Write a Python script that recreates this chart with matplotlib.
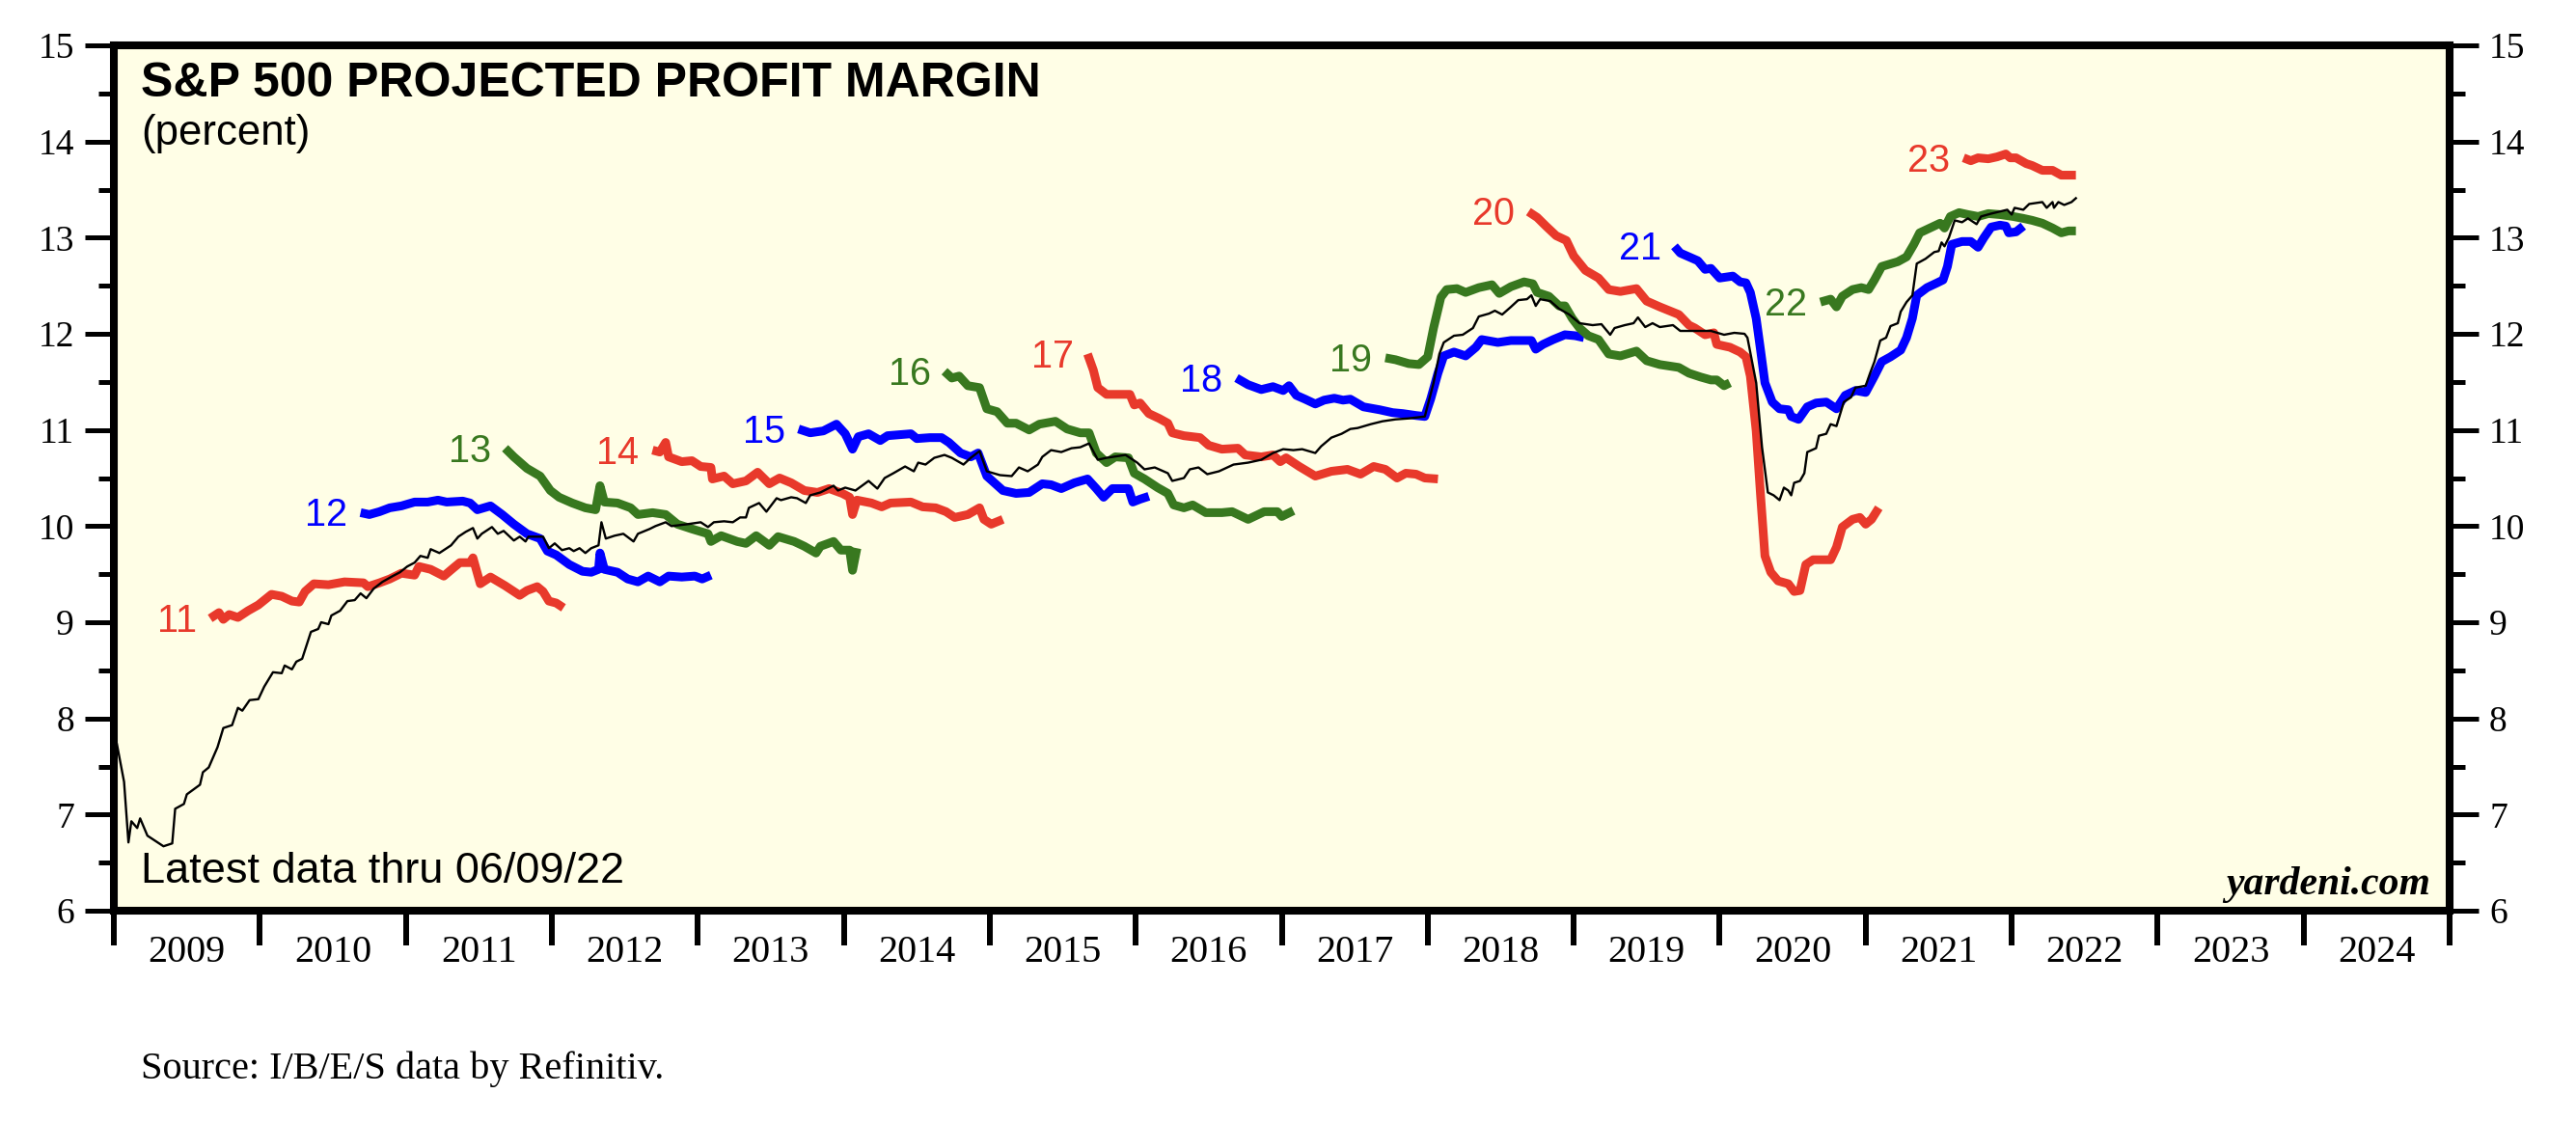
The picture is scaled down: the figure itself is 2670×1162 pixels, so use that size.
import matplotlib
matplotlib.use("Agg")
import matplotlib.pyplot as plt

# S&P 500 forward (time-weighted) profit margin, weekly readings (decimal year, percent)
fwd = [(2009.00, 7.80), (2009.02, 7.74), (2009.07, 7.34), (2009.10, 6.71), (2009.12, 6.93), (2009.16, 6.86),
       (2009.18, 6.96), (2009.23, 6.78), (2009.30, 6.71), (2009.34, 6.67), (2009.40, 6.70), (2009.42, 7.06),
       (2009.48, 7.11), (2009.50, 7.21), (2009.59, 7.31), (2009.61, 7.44), (2009.65, 7.49), (2009.71, 7.70),
       (2009.75, 7.90), (2009.81, 7.93), (2009.85, 8.11), (2009.88, 8.08), (2009.93, 8.19), (2009.99, 8.20),
       (2010.03, 8.33), (2010.09, 8.48), (2010.15, 8.47), (2010.17, 8.55), (2010.22, 8.51), (2010.25, 8.59),
       (2010.29, 8.62), (2010.35, 8.90), (2010.40, 8.93), (2010.42, 9.00), (2010.47, 8.98), (2010.49, 9.07),
       (2010.55, 9.12), (2010.60, 9.22), (2010.65, 9.23), (2010.69, 9.30), (2010.73, 9.25), (2010.78, 9.35),
       (2010.84, 9.42), (2010.91, 9.48), (2010.96, 9.52), (2011.01, 9.58), (2011.06, 9.62), (2011.10, 9.69),
       (2011.15, 9.67), (2011.17, 9.76), (2011.23, 9.72), (2011.31, 9.80), (2011.36, 9.89), (2011.41, 9.94),
       (2011.46, 9.98), (2011.49, 9.87), (2011.52, 9.92), (2011.59, 9.99), (2011.63, 9.92), (2011.67, 9.95),
       (2011.74, 9.85), (2011.78, 9.89), (2011.82, 9.84), (2011.84, 9.89), (2011.94, 9.89), (2011.98, 9.77),
       (2012.02, 9.82), (2012.07, 9.75), (2012.12, 9.77), (2012.15, 9.74), (2012.19, 9.77), (2012.23, 9.72),
       (2012.27, 9.77), (2012.32, 9.80), (2012.34, 10.04), (2012.37, 9.87), (2012.43, 9.90), (2012.49, 9.92),
       (2012.56, 9.84), (2012.59, 9.92), (2012.67, 9.97), (2012.71, 10.00), (2012.78, 10.04), (2012.82, 10.00),
       (2012.93, 10.02), (2013.02, 10.04), (2013.07, 9.99), (2013.11, 10.04), (2013.18, 10.05), (2013.24, 10.04),
       (2013.29, 10.09), (2013.33, 10.09), (2013.35, 10.19), (2013.42, 10.24), (2013.47, 10.15), (2013.54, 10.29),
       (2013.57, 10.27), (2013.64, 10.30), (2013.68, 10.29), (2013.74, 10.24), (2013.77, 10.32), (2013.84, 10.35),
       (2013.93, 10.42), (2013.96, 10.37), (2014.01, 10.40), (2014.08, 10.37), (2014.17, 10.47), (2014.23, 10.39),
       (2014.28, 10.50), (2014.34, 10.55), (2014.42, 10.62), (2014.48, 10.57), (2014.51, 10.66), (2014.56, 10.64),
       (2014.62, 10.71), (2014.69, 10.74), (2014.74, 10.71), (2014.82, 10.64), (2014.87, 10.71), (2014.93, 10.78),
       (2014.98, 10.57), (2015.07, 10.53), (2015.15, 10.52), (2015.20, 10.61), (2015.26, 10.57), (2015.33, 10.64),
       (2015.36, 10.72), (2015.42, 10.79), (2015.49, 10.77), (2015.56, 10.81), (2015.62, 10.82), (2015.68, 10.86),
       (2015.74, 10.69), (2015.80, 10.71), (2015.93, 10.74), (2016.01, 10.66), (2016.06, 10.59), (2016.13, 10.61),
       (2016.22, 10.55), (2016.25, 10.47), (2016.33, 10.50), (2016.37, 10.59), (2016.43, 10.61), (2016.49, 10.54),
       (2016.57, 10.57), (2016.67, 10.64), (2016.77, 10.66), (2016.86, 10.69), (2016.94, 10.76), (2017.01, 10.80),
       (2017.08, 10.79), (2017.14, 10.80), (2017.23, 10.76), (2017.27, 10.83), (2017.34, 10.92), (2017.41, 10.96),
       (2017.47, 11.01), (2017.52, 11.02), (2017.61, 11.06), (2017.69, 11.09), (2017.78, 11.11), (2017.87, 11.12),
       (2017.98, 11.14), (2018.04, 11.49), (2018.08, 11.79), (2018.11, 11.91), (2018.18, 11.98), (2018.24, 11.99),
       (2018.31, 12.06), (2018.35, 12.18), (2018.42, 12.21), (2018.46, 12.24), (2018.51, 12.20), (2018.57, 12.28),
       (2018.62, 12.35), (2018.68, 12.36), (2018.71, 12.40), (2018.74, 12.29), (2018.77, 12.36), (2018.84, 12.34),
       (2018.90, 12.26), (2018.97, 12.20), (2019.04, 12.11), (2019.13, 12.09), (2019.19, 12.10), (2019.25, 11.99),
       (2019.28, 12.06), (2019.35, 12.09), (2019.41, 12.11), (2019.44, 12.17), (2019.49, 12.07), (2019.54, 12.11),
       (2019.59, 12.07), (2019.68, 12.09), (2019.73, 12.03), (2019.81, 12.03), (2019.94, 12.03), (2020.03, 11.99),
       (2020.10, 12.01), (2020.17, 12.00), (2020.19, 11.96), (2020.25, 11.49), (2020.29, 10.82), (2020.33, 10.35),
       (2020.37, 10.32), (2020.41, 10.27), (2020.44, 10.40), (2020.47, 10.37), (2020.49, 10.32), (2020.51, 10.45),
       (2020.55, 10.47), (2020.58, 10.55), (2020.60, 10.77), (2020.66, 10.81), (2020.68, 10.94), (2020.73, 10.96),
       (2020.76, 11.06), (2020.80, 11.04), (2020.82, 11.14), (2020.85, 11.29), (2020.90, 11.34), (2020.93, 11.44),
       (2021.00, 11.46), (2021.03, 11.59), (2021.06, 11.71), (2021.10, 11.93), (2021.14, 11.96), (2021.17, 12.08),
       (2021.22, 12.11), (2021.24, 12.23), (2021.28, 12.33), (2021.32, 12.40), (2021.35, 12.73), (2021.41, 12.78),
       (2021.47, 12.85), (2021.50, 12.86), (2021.52, 12.95), (2021.54, 12.91), (2021.57, 13.00), (2021.61, 13.18),
       (2021.66, 13.16), (2021.70, 13.20), (2021.76, 13.14), (2021.79, 13.22), (2021.86, 13.25), (2021.97, 13.29),
       (2022.00, 13.24), (2022.02, 13.31), (2022.08, 13.29), (2022.12, 13.35), (2022.21, 13.37), (2022.24, 13.31),
       (2022.28, 13.37), (2022.29, 13.31), (2022.32, 13.37), (2022.36, 13.34), (2022.41, 13.37), (2022.44, 13.41)]

# projected margin for each calendar year
pm11 = [(2009.66, 9.04), (2009.72, 9.10), (2009.75, 9.03), (2009.79, 9.08), (2009.85, 9.05), (2009.92, 9.12),
        (2009.99, 9.18), (2010.08, 9.29), (2010.15, 9.27), (2010.22, 9.22), (2010.27, 9.21), (2010.31, 9.32),
        (2010.37, 9.40), (2010.47, 9.39), (2010.58, 9.42), (2010.71, 9.41), (2010.74, 9.37), (2010.82, 9.41),
        (2010.89, 9.45), (2010.97, 9.51), (2011.06, 9.49), (2011.09, 9.58), (2011.17, 9.55), (2011.26, 9.48),
        (2011.33, 9.57), (2011.37, 9.62), (2011.44, 9.62), (2011.46, 9.67), (2011.51, 9.40), (2011.58, 9.47),
        (2011.68, 9.38), (2011.78, 9.28), (2011.83, 9.33), (2011.90, 9.37), (2011.94, 9.32), (2011.98, 9.22),
        (2012.03, 9.20), (2012.08, 9.15)]
pm12 = [(2010.69, 10.14), (2010.75, 10.12), (2010.82, 10.15), (2010.89, 10.19), (2010.97, 10.21), (2011.06, 10.25),
        (2011.15, 10.25), (2011.22, 10.27), (2011.28, 10.25), (2011.39, 10.26), (2011.44, 10.24), (2011.49, 10.17),
        (2011.58, 10.21), (2011.66, 10.12), (2011.74, 10.02), (2011.83, 9.92), (2011.92, 9.87), (2011.97, 9.74),
        (2012.03, 9.70), (2012.12, 9.60), (2012.21, 9.53), (2012.27, 9.52), (2012.32, 9.55), (2012.33, 9.72),
        (2012.36, 9.55), (2012.45, 9.52), (2012.52, 9.45), (2012.59, 9.42), (2012.66, 9.48), (2012.74, 9.42),
        (2012.80, 9.48), (2012.89, 9.47), (2012.98, 9.48), (2013.03, 9.45), (2013.09, 9.49)]
pm13 = [(2011.68, 10.81), (2011.74, 10.72), (2011.83, 10.60), (2011.92, 10.52), (2011.99, 10.37), (2012.05, 10.30),
        (2012.14, 10.24), (2012.23, 10.19), (2012.30, 10.17), (2012.33, 10.42), (2012.36, 10.25), (2012.45, 10.24),
        (2012.54, 10.19), (2012.59, 10.12), (2012.69, 10.14), (2012.78, 10.12), (2012.86, 10.02), (2012.96, 9.97),
        (2013.07, 9.92), (2013.09, 9.84), (2013.16, 9.90), (2013.27, 9.84), (2013.33, 9.82), (2013.40, 9.90),
        (2013.49, 9.80), (2013.55, 9.89), (2013.66, 9.84), (2013.73, 9.79), (2013.81, 9.72), (2013.84, 9.79),
        (2013.93, 9.84), (2013.98, 9.75), (2014.04, 9.75), (2014.06, 9.54), (2014.09, 9.77)]
pm14 = [(2012.69, 10.79), (2012.74, 10.77), (2012.78, 10.87), (2012.80, 10.72), (2012.89, 10.67), (2012.96, 10.68),
        (2013.02, 10.62), (2013.09, 10.61), (2013.10, 10.49), (2013.18, 10.52), (2013.24, 10.44), (2013.33, 10.47),
        (2013.41, 10.56), (2013.49, 10.44), (2013.56, 10.50), (2013.64, 10.45), (2013.73, 10.37), (2013.82, 10.35),
        (2013.90, 10.39), (2013.99, 10.34), (2014.04, 10.30), (2014.06, 10.12), (2014.09, 10.27), (2014.19, 10.24),
        (2014.26, 10.20), (2014.32, 10.24), (2014.46, 10.25), (2014.54, 10.20), (2014.63, 10.19), (2014.70, 10.15),
        (2014.76, 10.09), (2014.85, 10.12), (2014.93, 10.19), (2014.96, 10.07), (2015.01, 10.02), (2015.09, 10.07)]
pm15 = [(2013.69, 11.01), (2013.77, 10.97), (2013.86, 10.99), (2013.95, 11.06), (2014.01, 10.96), (2014.06, 10.80),
        (2014.10, 10.93), (2014.17, 10.96), (2014.25, 10.89), (2014.30, 10.94), (2014.46, 10.96), (2014.50, 10.91),
        (2014.59, 10.92), (2014.67, 10.92), (2014.72, 10.87), (2014.80, 10.76), (2014.87, 10.72), (2014.92, 10.76),
        (2014.98, 10.52), (2015.09, 10.37), (2015.18, 10.34), (2015.27, 10.35), (2015.36, 10.44), (2015.42, 10.43),
        (2015.49, 10.39), (2015.58, 10.45), (2015.67, 10.49), (2015.73, 10.39), (2015.78, 10.30), (2015.84, 10.39),
        (2015.95, 10.39), (2015.98, 10.25), (2016.03, 10.28), (2016.09, 10.31)]
pm16 = [(2014.69, 11.61), (2014.74, 11.54), (2014.79, 11.56), (2014.85, 11.46), (2014.93, 11.44), (2014.98, 11.22),
        (2015.05, 11.19), (2015.12, 11.07), (2015.18, 11.07), (2015.27, 11.00), (2015.34, 11.06), (2015.45, 11.09),
        (2015.53, 11.01), (2015.62, 10.97), (2015.68, 10.97), (2015.73, 10.76), (2015.80, 10.66), (2015.86, 10.72),
        (2015.95, 10.71), (2015.99, 10.55), (2016.06, 10.49), (2016.15, 10.40), (2016.22, 10.34), (2016.26, 10.22),
        (2016.33, 10.19), (2016.39, 10.22), (2016.48, 10.14), (2016.59, 10.14), (2016.66, 10.15), (2016.77, 10.07),
        (2016.88, 10.15), (2016.97, 10.15), (2017.00, 10.10), (2017.08, 10.16)]
pm17 = [(2015.67, 11.79), (2015.71, 11.62), (2015.74, 11.44), (2015.80, 11.37), (2015.89, 11.37), (2015.96, 11.37),
        (2015.99, 11.26), (2016.03, 11.28), (2016.09, 11.17), (2016.16, 11.12), (2016.22, 11.07), (2016.25, 10.97),
        (2016.33, 10.94), (2016.44, 10.92), (2016.50, 10.84), (2016.59, 10.80), (2016.70, 10.81), (2016.75, 10.74),
        (2016.86, 10.72), (2016.94, 10.74), (2016.99, 10.67), (2017.03, 10.71), (2017.12, 10.62), (2017.23, 10.52),
        (2017.34, 10.57), (2017.45, 10.59), (2017.54, 10.54), (2017.63, 10.62), (2017.71, 10.59), (2017.79, 10.50),
        (2017.85, 10.55), (2017.92, 10.54), (2017.98, 10.50), (2018.07, 10.49)]
pm18 = [(2016.69, 11.54), (2016.77, 11.47), (2016.86, 11.42), (2016.94, 11.45), (2017.01, 11.41), (2017.05, 11.46),
        (2017.10, 11.36), (2017.16, 11.32), (2017.23, 11.27), (2017.29, 11.31), (2017.36, 11.33), (2017.42, 11.31),
        (2017.47, 11.32), (2017.56, 11.24), (2017.67, 11.21), (2017.76, 11.18), (2017.83, 11.17), (2017.92, 11.15),
        (2017.98, 11.14), (2018.02, 11.32), (2018.07, 11.59), (2018.11, 11.77), (2018.18, 11.81), (2018.26, 11.77),
        (2018.33, 11.86), (2018.37, 11.94), (2018.48, 11.91), (2018.57, 11.93), (2018.71, 11.93), (2018.74, 11.84),
        (2018.79, 11.89), (2018.86, 11.94), (2018.94, 11.99), (2019.01, 11.98), (2019.07, 11.96)]
pm19 = [(2017.71, 11.75), (2017.78, 11.73), (2017.87, 11.69), (2017.94, 11.68), (2018.00, 11.76), (2018.04, 12.06),
        (2018.09, 12.38), (2018.13, 12.46), (2018.20, 12.47), (2018.26, 12.43), (2018.35, 12.48), (2018.44, 12.51),
        (2018.49, 12.42), (2018.57, 12.49), (2018.66, 12.54), (2018.72, 12.52), (2018.75, 12.43), (2018.83, 12.39),
        (2018.90, 12.29), (2018.94, 12.29), (2018.99, 12.16), (2019.04, 12.06), (2019.10, 11.98), (2019.17, 11.94),
        (2019.24, 11.79), (2019.32, 11.77), (2019.43, 11.82), (2019.50, 11.72), (2019.59, 11.68), (2019.72, 11.65),
        (2019.79, 11.59), (2019.87, 11.55), (2019.94, 11.52), (2019.98, 11.52), (2020.03, 11.46), (2020.07, 11.49)]
pm20 = [(2018.69, 13.27), (2018.75, 13.21), (2018.81, 13.12), (2018.88, 13.02), (2018.95, 12.97), (2019.00, 12.81),
        (2019.08, 12.66), (2019.17, 12.58), (2019.24, 12.46), (2019.32, 12.44), (2019.43, 12.47), (2019.50, 12.34),
        (2019.59, 12.28), (2019.72, 12.20), (2019.79, 12.09), (2019.83, 12.06), (2019.90, 11.99), (2019.96, 12.01),
        (2019.98, 11.89), (2020.07, 11.86), (2020.14, 11.81), (2020.18, 11.76), (2020.21, 11.56), (2020.25, 10.99),
        (2020.28, 10.32), (2020.31, 9.69), (2020.35, 9.52), (2020.40, 9.43), (2020.47, 9.40), (2020.51, 9.32),
        (2020.55, 9.33), (2020.59, 9.60), (2020.64, 9.65), (2020.76, 9.65), (2020.80, 9.78), (2020.84, 9.99),
        (2020.91, 10.07), (2020.96, 10.09), (2021.00, 10.02), (2021.04, 10.07), (2021.09, 10.19)]
pm21 = [(2019.69, 12.91), (2019.73, 12.84), (2019.79, 12.80), (2019.85, 12.76), (2019.90, 12.67), (2019.94, 12.68),
        (2020.00, 12.58), (2020.09, 12.60), (2020.14, 12.54), (2020.18, 12.53), (2020.21, 12.43), (2020.25, 12.16),
        (2020.28, 11.83), (2020.31, 11.49), (2020.36, 11.29), (2020.41, 11.22), (2020.47, 11.21), (2020.49, 11.14),
        (2020.54, 11.11), (2020.60, 11.24), (2020.66, 11.28), (2020.73, 11.29), (2020.80, 11.22), (2020.86, 11.36),
        (2020.93, 11.41), (2021.00, 11.39), (2021.06, 11.56), (2021.11, 11.71), (2021.17, 11.76), (2021.24, 11.83),
        (2021.28, 11.96), (2021.32, 12.16), (2021.35, 12.40), (2021.42, 12.48), (2021.49, 12.53), (2021.53, 12.56),
        (2021.56, 12.70), (2021.59, 12.93), (2021.66, 12.96), (2021.72, 12.96), (2021.77, 12.90), (2021.81, 13.00),
        (2021.86, 13.11), (2021.92, 13.13), (2021.96, 13.12), (2021.98, 13.05), (2022.03, 13.06), (2022.08, 13.12)]
pm22 = [(2020.69, 12.33), (2020.76, 12.36), (2020.80, 12.28), (2020.84, 12.39), (2020.91, 12.46), (2020.97, 12.48),
        (2021.02, 12.46), (2021.06, 12.56), (2021.11, 12.70), (2021.22, 12.75), (2021.28, 12.80), (2021.33, 12.93),
        (2021.37, 13.05), (2021.44, 13.10), (2021.51, 13.15), (2021.54, 13.10), (2021.58, 13.22), (2021.64, 13.26),
        (2021.70, 13.24), (2021.77, 13.22), (2021.84, 13.25), (2021.92, 13.24), (2022.01, 13.22), (2022.08, 13.20),
        (2022.14, 13.18), (2022.21, 13.15), (2022.28, 13.10), (2022.34, 13.05), (2022.39, 13.07), (2022.44, 13.07)]
pm23 = [(2021.67, 13.83), (2021.72, 13.80), (2021.77, 13.83), (2021.84, 13.82), (2021.90, 13.84), (2021.96, 13.87),
        (2021.99, 13.83), (2022.03, 13.83), (2022.10, 13.77), (2022.14, 13.75), (2022.21, 13.70), (2022.28, 13.70),
        (2022.34, 13.65), (2022.39, 13.65), (2022.44, 13.65)]

year_labels = [str(y) for y in range(2009, 2025)]
RED, BLUE, GREEN = "#e8392b", "#0000ff", "#38781f"

series = [("11", pm11, RED), ("12", pm12, BLUE), ("13", pm13, GREEN),
          ("14", pm14, RED), ("15", pm15, BLUE), ("16", pm16, GREEN),
          ("17", pm17, RED), ("18", pm18, BLUE), ("19", pm19, GREEN),
          ("20", pm20, RED), ("21", pm21, BLUE), ("22", pm22, GREEN),
          ("23", pm23, RED)]

plt.rcParams["font.family"] = "Liberation Serif"
SANS = "Liberation Sans"

fig = plt.figure(figsize=(26.7, 11.62), dpi=100)
ax = fig.add_axes([118 / 2670, 1 - 944 / 1162, 2421 / 2670, 897 / 1162])
ax.set_facecolor("#fffee6")

for name, pts, col in series:
    t = [p[0] for p in pts]
    v = [p[1] for p in pts]
    ax.plot(t, v, color=col, lw=6.5, solid_capstyle="butt", solid_joinstyle="round", zorder=2)
    ax.annotate(name, xy=(t[0], v[0]), xytext=(-14, -14), textcoords="offset pixels",
                ha="right", va="baseline", color=col, fontsize=28.5, family=SANS)

ax.plot([p[0] for p in fwd], [p[1] for p in fwd], color="black", lw=1.7, zorder=3)

# axes
ax.set_xlim(2009, 2025)
ax.set_ylim(6, 15)
ax.set_yticks(range(6, 16))
ax.set_yticks([y + 0.5 for y in range(6, 15)], minor=True)
ax.set_xticks(range(2009, 2026))
ax.set_xticklabels([])
ax.set_xticks([y + 0.5 for y in range(2009, 2025)], minor=True)
ax.set_xticklabels(year_labels, minor=True)

for s in ax.spines.values():
    s.set_linewidth(5.8)
ax.tick_params(axis="y", which="major", direction="out", length=21.6, width=3.6,
               left=True, right=True, labelleft=True, labelright=True, labelsize=27, pad=8)
ax.tick_params(axis="y", which="minor", direction="out", length=11.3, width=3.6, left=True, right=True)
ax.tick_params(axis="x", which="major", direction="out", length=26, width=4.3)
ax.tick_params(axis="x", which="minor", length=0, labelsize=29, pad=18)

# texts
ax.text(0.0116, 0.941, "S&P 500 PROJECTED PROFIT MARGIN", transform=ax.transAxes,
        fontsize=36, fontweight="bold", family=SANS, va="baseline")
ax.text(0.0116, 0.885, "(percent)", transform=ax.transAxes, fontsize=31.5, family=SANS, va="baseline")
ax.text(0.0116, 0.0323, "Latest data thru 06/09/22", transform=ax.transAxes, fontsize=32.5,
        family=SANS, va="baseline")
ax.text(0.9917, 0.019, "yardeni.com", transform=ax.transAxes, fontsize=30, fontweight="bold",
        fontstyle="italic", ha="right", va="baseline")
fig.text(146 / 2670, 1 - 1118 / 1162, "Source: I/B/E/S data by Refinitiv.", fontsize=29, va="baseline")

fig.savefig("out.png", dpi=100, facecolor="white")
